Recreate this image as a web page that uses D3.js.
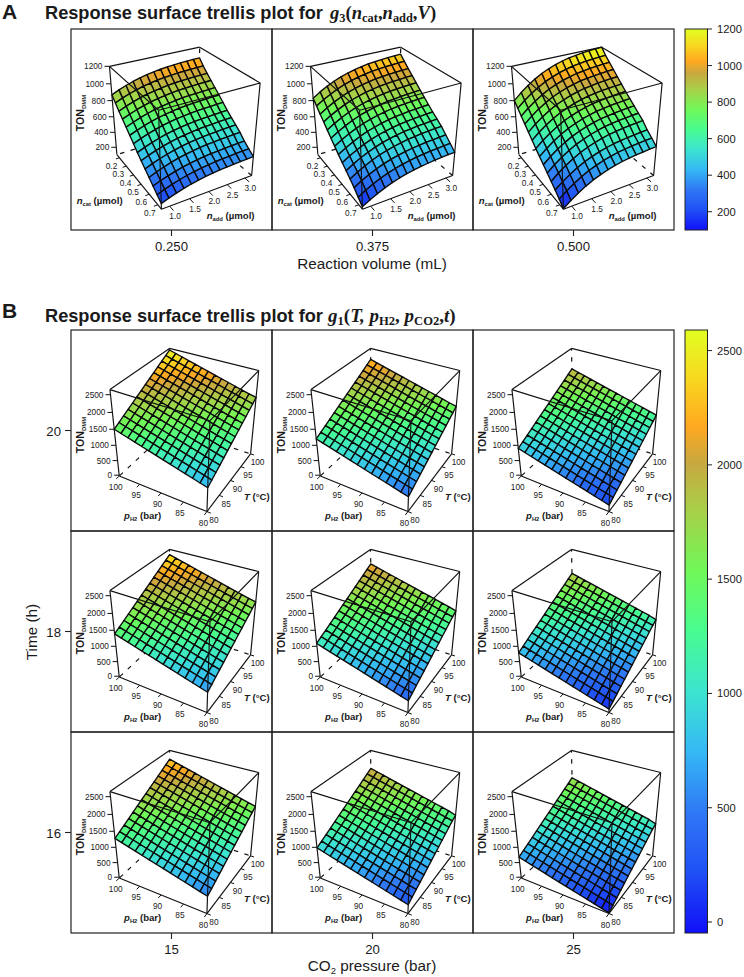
<!DOCTYPE html>
<html><head><meta charset="utf-8">
<script src="https://cdn.jsdelivr.net/npm/d3@7"></script>
<style>html,body{margin:0;background:#fff}svg{display:block}text{font-family:"Liberation Sans",Arial,sans-serif;fill:#1a1a1a}</style>
</head><body><div id="c"></div>
<script>
// Categories / ticks
const volumes=["0.250","0.375","0.500"];
const pressures=["15","20","25"];
const times=["20","18","16"];
const zTicksA=[200,400,600,800,1000,1200];
const zTicksB=[0,500,1000,1500,2000,2500];
const nAddTicks=[1.0,1.5,2.0,2.5,3.0];
const nCatTicks=[0.2,0.3,0.4,0.5,0.6,0.7];
const pH2Ticks=[100,95,90,85,80];
const tempTicks=[80,85,90,95,100];
const colorbarTicksA=[200,400,600,800,1000,1200];
const colorbarTicksB=[0,500,1000,1500,2000,2500];
const colorStops=["#1010f8","#2050f5","#2f78f5","#35b8f5","#3ce4d0","#48fc90","#70f858","#a8d048","#c8a840","#ffa820","#f8d820","#e0ff20"];
const colorStopAt=[0,.1,.2,.3,.4,.5,.6,.7,.78,.84,.92,1];

// TON values, rows: n_cat 0.2 -> 0.7, columns: n_add 1 -> 3
const surfA_250=[
[870,908,940,968,992,1010,1026,1038,1048,1054,1060,1064,1068,1070],
[810,846,877,903,926,943,958,970,979,985,990,994,998,1000],
[750,786,817,843,866,883,898,910,919,925,930,934,938,940],
[695,731,762,788,811,828,843,855,864,870,875,879,883,885],
[640,676,707,733,756,773,788,800,809,815,820,824,828,830],
[585,621,652,678,701,718,733,745,754,760,765,769,773,775],
[530,566,597,623,646,663,678,690,699,705,710,714,718,720],
[470,506,537,563,586,603,618,630,639,645,650,654,658,660],
[420,456,487,513,536,553,568,580,589,595,600,604,608,610],
[370,406,437,463,486,503,518,530,539,545,550,554,558,560],
[320,356,387,413,436,453,468,480,489,495,500,504,508,510],
[270,303,331,356,377,393,407,417,426,431,436,440,443,445],
[220,253,281,306,327,343,357,367,376,381,386,390,393,395],
[170,203,231,256,277,293,307,317,326,331,336,340,343,345]];
const surfA_375=[
[830,884,930,970,1004,1030,1052,1069,1084,1092,1101,1106,1112,1115],
[772,826,872,912,946,972,994,1011,1026,1034,1043,1048,1054,1057],
[714,768,814,854,888,914,936,953,968,976,985,990,996,999],
[660,714,760,800,834,860,882,899,914,922,931,936,942,945],
[605,659,705,745,779,805,827,844,859,867,876,881,887,890],
[550,604,650,690,724,750,772,789,804,812,821,826,832,835],
[498,552,598,638,672,698,720,737,752,760,769,774,780,783],
[445,499,545,585,619,645,667,684,699,707,716,721,727,730],
[395,449,495,535,569,595,617,634,649,657,666,671,677,680],
[348,402,448,488,522,548,570,587,602,610,619,624,630,633],
[300,354,400,440,474,500,522,539,554,562,571,576,582,585],
[250,302,346,384,417,442,463,479,493,501,510,514,520,523],
[190,242,286,324,357,382,403,419,433,441,450,454,460,463],
[130,180,224,262,295,320,341,357,371,379,388,392,398,400]];
const surfA_500=[
[800,876,940,996,1044,1080,1112,1136,1156,1168,1180,1188,1196,1200],
[745,818,880,934,980,1015,1045,1068,1088,1099,1111,1118,1126,1130],
[690,763,825,879,925,960,990,1013,1033,1044,1056,1063,1071,1075],
[635,708,770,824,870,905,935,958,978,989,1001,1008,1016,1020],
[580,653,715,769,815,850,880,903,923,934,946,953,961,965],
[525,598,660,714,760,795,825,848,868,879,891,898,906,910],
[470,543,605,659,705,740,770,793,813,824,836,843,851,855],
[420,493,555,609,655,690,720,743,763,774,786,793,801,805],
[370,443,505,559,605,640,670,693,713,724,736,743,751,755],
[320,393,455,509,555,590,620,643,663,674,686,693,701,705],
[270,343,405,459,505,540,570,593,613,624,636,643,651,655],
[220,289,348,399,443,476,505,527,545,556,567,574,581,585],
[165,234,293,344,388,421,450,472,490,501,512,519,526,530],
[105,174,233,284,328,361,390,412,430,441,452,459,466,470]];

// TON values, rows: T 80 -> 100, columns: pH2 100 -> 80
const surfB_t20_c15=[
[1500,1442,1384,1326,1268,1210,1152,1094,1036,978,920,862,804,746],
[1584,1526,1468,1410,1352,1294,1236,1178,1120,1062,1004,946,888,830],
[1668,1610,1552,1494,1436,1378,1320,1262,1204,1146,1088,1030,972,914],
[1752,1694,1636,1578,1520,1462,1404,1346,1288,1230,1172,1114,1056,998],
[1836,1778,1720,1662,1604,1546,1488,1430,1372,1314,1256,1198,1140,1082],
[1920,1862,1804,1746,1688,1630,1572,1514,1456,1398,1340,1282,1224,1166],
[2004,1946,1888,1830,1772,1714,1656,1598,1540,1482,1424,1366,1308,1250],
[2088,2030,1972,1914,1856,1798,1740,1682,1624,1566,1508,1450,1392,1334],
[2172,2114,2056,1998,1940,1882,1824,1766,1708,1650,1592,1534,1476,1418],
[2256,2198,2140,2082,2024,1966,1908,1850,1792,1734,1676,1618,1560,1502],
[2340,2282,2224,2166,2108,2050,1992,1934,1876,1818,1760,1702,1644,1586],
[2424,2366,2308,2250,2192,2134,2076,2018,1960,1902,1844,1786,1728,1670],
[2508,2450,2392,2334,2276,2218,2160,2102,2044,1986,1928,1870,1812,1754],
[2592,2534,2476,2418,2360,2302,2244,2186,2128,2070,2012,1954,1896,1850]];
const surfB_t20_c20=[
[1200,1143,1086,1029,972,915,858,801,744,687,630,573,516,459],
[1285,1228,1171,1114,1057,1000,943,886,829,772,715,658,601,544],
[1370,1313,1256,1199,1142,1085,1028,971,914,857,800,743,686,629],
[1455,1398,1341,1284,1227,1170,1113,1056,999,942,885,828,771,714],
[1540,1483,1426,1369,1312,1255,1198,1141,1084,1027,970,913,856,799],
[1625,1568,1511,1454,1397,1340,1283,1226,1169,1112,1055,998,941,884],
[1710,1653,1596,1539,1482,1425,1368,1311,1254,1197,1140,1083,1026,969],
[1795,1738,1681,1624,1567,1510,1453,1396,1339,1282,1225,1168,1111,1054],
[1880,1823,1766,1709,1652,1595,1538,1481,1424,1367,1310,1253,1196,1139],
[1965,1908,1851,1794,1737,1680,1623,1566,1509,1452,1395,1338,1281,1224],
[2050,1993,1936,1879,1822,1765,1708,1651,1594,1537,1480,1423,1366,1309],
[2135,2078,2021,1964,1907,1850,1793,1736,1679,1622,1565,1508,1451,1394],
[2220,2163,2106,2049,1992,1935,1878,1821,1764,1707,1650,1593,1536,1479],
[2305,2248,2191,2134,2077,2020,1963,1906,1849,1792,1735,1678,1621,1570]];
const surfB_t20_c25=[
[900,845,790,735,680,625,570,515,460,405,350,295,240,185],
[985,930,875,820,765,710,655,600,545,490,435,380,325,270],
[1070,1015,960,905,850,795,740,685,630,575,520,465,410,355],
[1155,1100,1045,990,935,880,825,770,715,660,605,550,495,440],
[1240,1185,1130,1075,1020,965,910,855,800,745,690,635,580,525],
[1325,1270,1215,1160,1105,1050,995,940,885,830,775,720,665,610],
[1410,1355,1300,1245,1190,1135,1080,1025,970,915,860,805,750,695],
[1495,1440,1385,1330,1275,1220,1165,1110,1055,1000,945,890,835,780],
[1580,1525,1470,1415,1360,1305,1250,1195,1140,1085,1030,975,920,865],
[1665,1610,1555,1500,1445,1390,1335,1280,1225,1170,1115,1060,1005,950],
[1750,1695,1640,1585,1530,1475,1420,1365,1310,1255,1200,1145,1090,1035],
[1835,1780,1725,1670,1615,1560,1505,1450,1395,1340,1285,1230,1175,1120],
[1920,1865,1810,1755,1700,1645,1590,1535,1480,1425,1370,1315,1260,1205],
[2005,1950,1895,1840,1785,1730,1675,1620,1565,1510,1455,1400,1345,1290]];
const surfB_t18_c15=[
[1390,1332,1274,1216,1158,1100,1042,984,926,868,810,752,694,636],
[1474,1416,1358,1300,1242,1184,1126,1068,1010,952,894,836,778,720],
[1558,1500,1442,1384,1326,1268,1210,1152,1094,1036,978,920,862,804],
[1642,1584,1526,1468,1410,1352,1294,1236,1178,1120,1062,1004,946,888],
[1726,1668,1610,1552,1494,1436,1378,1320,1262,1204,1146,1088,1030,972],
[1810,1752,1694,1636,1578,1520,1462,1404,1346,1288,1230,1172,1114,1056],
[1894,1836,1778,1720,1662,1604,1546,1488,1430,1372,1314,1256,1198,1140],
[1978,1920,1862,1804,1746,1688,1630,1572,1514,1456,1398,1340,1282,1224],
[2062,2004,1946,1888,1830,1772,1714,1656,1598,1540,1482,1424,1366,1308],
[2146,2088,2030,1972,1914,1856,1798,1740,1682,1624,1566,1508,1450,1392],
[2230,2172,2114,2056,1998,1940,1882,1824,1766,1708,1650,1592,1534,1476],
[2314,2256,2198,2140,2082,2024,1966,1908,1850,1792,1734,1676,1618,1560],
[2398,2340,2282,2224,2166,2108,2050,1992,1934,1876,1818,1760,1702,1644],
[2482,2424,2366,2308,2250,2192,2134,2076,2018,1960,1902,1844,1786,1740]];
const surfB_t18_c20=[
[1090,1034,978,922,866,810,754,698,642,586,530,474,418,362],
[1175,1119,1063,1007,951,895,839,783,727,671,615,559,503,447],
[1260,1204,1148,1092,1036,980,924,868,812,756,700,644,588,532],
[1345,1289,1233,1177,1121,1065,1009,953,897,841,785,729,673,617],
[1430,1374,1318,1262,1206,1150,1094,1038,982,926,870,814,758,702],
[1515,1459,1403,1347,1291,1235,1179,1123,1067,1011,955,899,843,787],
[1600,1544,1488,1432,1376,1320,1264,1208,1152,1096,1040,984,928,872],
[1685,1629,1573,1517,1461,1405,1349,1293,1237,1181,1125,1069,1013,957],
[1770,1714,1658,1602,1546,1490,1434,1378,1322,1266,1210,1154,1098,1042],
[1855,1799,1743,1687,1631,1575,1519,1463,1407,1351,1295,1239,1183,1127],
[1940,1884,1828,1772,1716,1660,1604,1548,1492,1436,1380,1324,1268,1212],
[2025,1969,1913,1857,1801,1745,1689,1633,1577,1521,1465,1409,1353,1297],
[2110,2054,1998,1942,1886,1830,1774,1718,1662,1606,1550,1494,1438,1382],
[2195,2139,2083,2027,1971,1915,1859,1803,1747,1691,1635,1579,1523,1460]];
const surfB_t18_c25=[
[790,736,682,628,574,520,466,412,358,304,250,196,142,88],
[875,821,767,713,659,605,551,497,443,389,335,281,227,173],
[960,906,852,798,744,690,636,582,528,474,420,366,312,258],
[1045,991,937,883,829,775,721,667,613,559,505,451,397,343],
[1130,1076,1022,968,914,860,806,752,698,644,590,536,482,428],
[1215,1161,1107,1053,999,945,891,837,783,729,675,621,567,513],
[1300,1246,1192,1138,1084,1030,976,922,868,814,760,706,652,598],
[1385,1331,1277,1223,1169,1115,1061,1007,953,899,845,791,737,683],
[1470,1416,1362,1308,1254,1200,1146,1092,1038,984,930,876,822,768],
[1555,1501,1447,1393,1339,1285,1231,1177,1123,1069,1015,961,907,853],
[1640,1586,1532,1478,1424,1370,1316,1262,1208,1154,1100,1046,992,938],
[1725,1671,1617,1563,1509,1455,1401,1347,1293,1239,1185,1131,1077,1023],
[1810,1756,1702,1648,1594,1540,1486,1432,1378,1324,1270,1216,1162,1108],
[1895,1841,1787,1733,1679,1625,1571,1517,1463,1409,1355,1301,1247,1180]];
const surfB_t16_c15=[
[1280,1223,1166,1109,1052,995,938,881,824,767,710,653,596,539],
[1364,1307,1250,1193,1136,1079,1022,965,908,851,794,737,680,623],
[1448,1391,1334,1277,1220,1163,1106,1049,992,935,878,821,764,707],
[1532,1475,1418,1361,1304,1247,1190,1133,1076,1019,962,905,848,791],
[1616,1559,1502,1445,1388,1331,1274,1217,1160,1103,1046,989,932,875],
[1700,1643,1586,1529,1472,1415,1358,1301,1244,1187,1130,1073,1016,959],
[1784,1727,1670,1613,1556,1499,1442,1385,1328,1271,1214,1157,1100,1043],
[1868,1811,1754,1697,1640,1583,1526,1469,1412,1355,1298,1241,1184,1127],
[1952,1895,1838,1781,1724,1667,1610,1553,1496,1439,1382,1325,1268,1211],
[2036,1979,1922,1865,1808,1751,1694,1637,1580,1523,1466,1409,1352,1295],
[2120,2063,2006,1949,1892,1835,1778,1721,1664,1607,1550,1493,1436,1379],
[2204,2147,2090,2033,1976,1919,1862,1805,1748,1691,1634,1577,1520,1463],
[2288,2231,2174,2117,2060,2003,1946,1889,1832,1775,1718,1661,1604,1547],
[2372,2315,2258,2201,2144,2087,2030,1973,1916,1859,1802,1745,1688,1630]];
const surfB_t16_c20=[
[980,925,870,815,760,705,650,595,540,485,430,375,320,265],
[1065,1010,955,900,845,790,735,680,625,570,515,460,405,350],
[1150,1095,1040,985,930,875,820,765,710,655,600,545,490,435],
[1235,1180,1125,1070,1015,960,905,850,795,740,685,630,575,520],
[1320,1265,1210,1155,1100,1045,990,935,880,825,770,715,660,605],
[1405,1350,1295,1240,1185,1130,1075,1020,965,910,855,800,745,690],
[1490,1435,1380,1325,1270,1215,1160,1105,1050,995,940,885,830,775],
[1575,1520,1465,1410,1355,1300,1245,1190,1135,1080,1025,970,915,860],
[1660,1605,1550,1495,1440,1385,1330,1275,1220,1165,1110,1055,1000,945],
[1745,1690,1635,1580,1525,1470,1415,1360,1305,1250,1195,1140,1085,1030],
[1830,1775,1720,1665,1610,1555,1500,1445,1390,1335,1280,1225,1170,1115],
[1915,1860,1805,1750,1695,1640,1585,1530,1475,1420,1365,1310,1255,1200],
[2000,1945,1890,1835,1780,1725,1670,1615,1560,1505,1450,1395,1340,1285],
[2085,2030,1975,1920,1865,1810,1755,1700,1645,1590,1535,1480,1425,1350]];
const surfB_t16_c25=[
[680,627,574,521,468,415,362,309,256,203,150,97,44,-9],
[765,712,659,606,553,500,447,394,341,288,235,182,129,76],
[850,797,744,691,638,585,532,479,426,373,320,267,214,161],
[935,882,829,776,723,670,617,564,511,458,405,352,299,246],
[1020,967,914,861,808,755,702,649,596,543,490,437,384,331],
[1105,1052,999,946,893,840,787,734,681,628,575,522,469,416],
[1190,1137,1084,1031,978,925,872,819,766,713,660,607,554,501],
[1275,1222,1169,1116,1063,1010,957,904,851,798,745,692,639,586],
[1360,1307,1254,1201,1148,1095,1042,989,936,883,830,777,724,671],
[1445,1392,1339,1286,1233,1180,1127,1074,1021,968,915,862,809,756],
[1530,1477,1424,1371,1318,1265,1212,1159,1106,1053,1000,947,894,841],
[1615,1562,1509,1456,1403,1350,1297,1244,1191,1138,1085,1032,979,926],
[1700,1647,1594,1541,1488,1435,1382,1329,1276,1223,1170,1117,1064,1011],
[1785,1732,1679,1626,1573,1520,1467,1414,1361,1308,1255,1202,1149,1070]];

const W=744,H=977;
const svg=d3.select("#c").append("svg").attr("width",W).attr("height",H);
const colX=[71,272,473], cw=201;
const rowYA=29, rowYB=[330,531,732];
const rad=Math.PI/180;

const domA=[100,1200], domB=[-30,2640];
const ramp=d3.scaleLinear().domain(colorStopAt).range(colorStops).interpolate(d3.interpolateRgb);

function makeProj(phi,el,s,d,cx,cy){
  const cp=Math.cos(phi*rad),sp=Math.sin(phi*rad),ce=Math.cos(el*rad),se=Math.sin(el*rad);
  return (x,y,z)=>{
    const sx=x*cp+y*sp, D=-x*sp+y*cp, up=z*ce+D*se, vd=D*ce-z*se, f=d/(d+vd);
    return [cx+s*sx*f, cy-s*up*f, vd];
  };
}
const viewA={phi:-30,el:30,s:52,d:9,cx:111,cy:93};
const viewB={phi:30,el:34,s:51,d:9,cx:116,cy:94.8};

function subText(g,parts,attrs){
  const t=g.append("text");
  Object.entries(attrs).forEach(([k,v])=>t.attr(k,v));
  parts.forEach(p=>{
    const s=t.append("tspan").text(p.t);
    if(p.i)s.attr("font-style","italic");
    if(p.sub){s.attr("font-size",p.sub).attr("dy",p.dy);}
    else if(p.dy)s.attr("dy",p.dy);
  });
  return t;
}

function panel(px,py,matrix,cfg){
  const g=svg.append("g").attr("transform",`translate(${px},${py})`);
  const proj=makeProj(cfg.view.phi,cfg.view.el,cfg.view.s,cfg.view.d,cfg.view.cx,cfg.view.cy);
  const zS=d3.scaleLinear().domain(cfg.zDom).range([-1,1]);
  const iS=d3.scaleLinear().domain([0,matrix.length-1]).range(cfg.rowRange);
  const jS=d3.scaleLinear().domain([0,matrix[0].length-1]).range([-1,1]);
  const line=d3.line();
  const edge=(a,b)=>line([proj(...a),proj(...b)].map(p=>[p[0],p[1]]));
  const hx=cfg.hidden[0],hy=cfg.hidden[1];
  [[[hx,hy,-1],[hx,hy,1]],[[hx,hy,-1],[-hx,hy,-1]],[[hx,hy,-1],[hx,-hy,-1]]].forEach(e=>{
    g.append("path").attr("d",edge(e[0],e[1])).attr("fill","none").attr("stroke","#111").attr("stroke-width",1.2).attr("stroke-dasharray","4.5 6.5");
  });
  const cells=[];
  for(let i=0;i<matrix.length-1;i++)for(let j=0;j<matrix[0].length-1;j++){
    const c=[[i,j],[i,j+1],[i+1,j+1],[i+1,j]].map(([a,b])=>proj(jS(b),iS(a),zS(matrix[a][b])));
    cells.push({c,v:(matrix[i][j]+matrix[i][j+1]+matrix[i+1][j]+matrix[i+1][j+1])/4,d:d3.mean(c,p=>p[2])});
  }
  cells.sort((a,b)=>b.d-a.d);
  const cs=d3.scaleLinear().domain(cfg.colorDom).range([0,1]).clamp(true);
  g.append("g").selectAll("path").data(cells).join("path")
    .attr("d",d=>line(d.c.map(p=>[p[0],p[1]]))+"Z")
    .attr("fill",d=>ramp(cs(d.v))).attr("stroke","#0a0a0a").attr("stroke-width",1.35).attr("stroke-linejoin","round");
  const corners=[];[-1,1].forEach(x=>[-1,1].forEach(y=>[-1,1].forEach(z=>corners.push([x,y,z]))));
  corners.forEach((a,ia)=>corners.forEach((b,ib)=>{
    if(ib<=ia)return;
    const diff=(a[0]!==b[0])+(a[1]!==b[1])+(a[2]!==b[2]);
    if(diff!==1)return;
    const isH=p=>p[0]===hx&&p[1]===hy&&p[2]===-1;
    if(isH(a)||isH(b))return;
    g.append("path").attr("d",edge(a,b)).attr("fill","none").attr("stroke","#111").attr("stroke-width",1.15);
  }));
  cfg.zTicks.forEach(v=>{
    const p=proj(cfg.zCorner[0],cfg.zCorner[1],zS(v));
    g.append("line").attr("x1",p[0]-5).attr("x2",p[0]).attr("y1",p[1]).attr("y2",p[1]).attr("stroke","#111").attr("stroke-width",1);
    g.append("text").attr("x",p[0]-7).attr("y",p[1]+3).attr("text-anchor","end").attr("font-size",8.3).text(v);
  });
  cfg.floor.forEach(ax=>{
    const s=d3.scaleLinear().domain(ax.dom).range(ax.range);
    ax.ticks.forEach(v=>{
      const a=ax.pt(s(v),false),b=ax.pt(s(v),true);
      const p=proj(...a),q=proj(...b);
      g.append("line").attr("x1",p[0]).attr("y1",p[1]).attr("x2",q[0]).attr("y2",q[1]).attr("stroke","#111").attr("stroke-width",1);
      g.append("text").attr("x",p[0]+ax.off[0]).attr("y",p[1]+ax.off[1]+3).attr("text-anchor","middle").attr("font-size",8.3).text(ax.fmt(v));
    });
  });
  const zl=g.append("g").attr("transform",`translate(13,${cfg.zLabelY}) rotate(-90)`);
  subText(zl,[{t:"TON"},{t:"DMM",sub:6,dy:2}],{"text-anchor":"middle","font-size":10.6,"font-weight":"bold"});
  cfg.labels.forEach(l=>subText(g,l.parts,{x:l.x,y:l.y,"font-size":9.6,"font-weight":"bold"}));
  g.append("rect").attr("width",cw).attr("height",cw).attr("fill","none").attr("stroke","#222").attr("stroke-width",1.2);
}

const cfgA={view:viewA,zDom:domA,colorDom:domA,rowRange:[1,-1],hidden:[1,1],zTicks:zTicksA,zCorner:[-1,1],zLabelY:84,
  floor:[
   {dom:[0.8,3.2],range:[-1,1],ticks:nAddTicks,pt:(v,o)=>[v,o?-1.14:-1,-1],off:[5.5,10],fmt:d3.format(".1f")},
   {dom:[0.16,0.74],range:[1,-1],ticks:nCatTicks,pt:(v,o)=>[o?-1.08:-1,v,-1],off:[-8,8],fmt:d3.format(".1f")}
  ],
  labels:[
   {x:5.7,y:175,parts:[{t:"n",i:1},{t:"cat",sub:5.8,dy:1.8},{t:" (µmol)",dy:-1.8}]},
   {x:135.7,y:190,parts:[{t:"n",i:1},{t:"add",sub:5.8,dy:1.8},{t:" (µmol)",dy:-1.8}]}
  ]};
const cfgB={view:viewB,zDom:domB,colorDom:domB,rowRange:[-1,1],hidden:[-1,1],zTicks:zTicksB,zCorner:[-1,-1],zLabelY:105,
  floor:[
   {dom:[100,80],range:[-1,1],ticks:pH2Ticks,pt:(v,o)=>[v,o?-1.1:-1,-1],off:[-3.5,11],fmt:String},
   {dom:[80,100],range:[-1,1],ticks:tempTicks,pt:(v,o)=>[o?1.08:1,v,-1],off:[7,8.5],fmt:String}
  ],
  labels:[
   {x:53,y:189,parts:[{t:"p",i:1},{t:"H2",sub:5.8,dy:1.8},{t:" (bar)",dy:-1.8}]},
   {x:173,y:170,parts:[{t:"T",i:1},{t:" (°C)"}]}
  ]};

[surfA_250,surfA_375,surfA_500].forEach((m,k)=>panel(colX[k],rowYA,m,cfgA));
[[surfB_t20_c15,surfB_t20_c20,surfB_t20_c25],[surfB_t18_c15,surfB_t18_c20,surfB_t18_c25],[surfB_t16_c15,surfB_t16_c20,surfB_t16_c25]]
  .forEach((row,r)=>row.forEach((m,k)=>panel(colX[k],rowYB[r],m,cfgB)));

const axisFs=13.2, titleFs=15.3;
function bottomTicks(y,labels,ly){
  labels.forEach((t,k)=>{
    const x=colX[k]+cw/2;
    svg.append("line").attr("x1",x).attr("x2",x).attr("y1",y).attr("y2",y+6).attr("stroke","#222").attr("stroke-width",1.1);
    svg.append("text").attr("x",x).attr("y",ly).attr("text-anchor","middle").attr("font-size",axisFs).text(t);
  });
}
bottomTicks(230,volumes,251);
svg.append("text").attr("x",372).attr("y",269).attr("text-anchor","middle").attr("font-size",titleFs).text("Reaction volume (mL)");
bottomTicks(933,pressures,954);
const co2=svg.append("text").attr("x",372).attr("y",971).attr("text-anchor","middle").attr("font-size",titleFs);
co2.append("tspan").text("CO");co2.append("tspan").attr("font-size",9.5).attr("dy",3).text("2");co2.append("tspan").attr("dy",-3).text(" pressure (bar)");
times.forEach((t,r)=>{
  const y=rowYB[r]+cw/2;
  svg.append("line").attr("x1",65).attr("x2",71).attr("y1",y).attr("y2",y).attr("stroke","#222").attr("stroke-width",1.1);
  svg.append("text").attr("x",61).attr("y",y+5).attr("text-anchor","end").attr("font-size",axisFs).text(t);
});
svg.append("text").attr("transform","translate(37,632) rotate(-90)").attr("text-anchor","middle").attr("font-size",titleFs).text("Time (h)");

function title(letter,ly,tx,ty,parts,mathX,mathFs){
  svg.append("text").attr("x",2).attr("y",ly).attr("font-size",21).attr("font-weight","bold").attr("fill","#000").text(letter);
  svg.append("text").attr("x",tx).attr("y",ty).attr("font-size",18.2).attr("font-weight","bold").attr("fill","#000").text("Response surface trellis plot for");
  const t=svg.append("text").attr("x",mathX).attr("y",ty).attr("font-size",mathFs).attr("font-weight","bold").style("font-family",'"Liberation Serif",serif').attr("fill","#000");
  parts.forEach(p=>{
    const s=t.append("tspan").text(p.t);
    if(p.i)s.attr("font-style","italic");
    if(p.sub)s.attr("font-size",p.sub).attr("dy",3);
    if(p.up)s.attr("dy",-3);
  });
}
title("A",19.2,45,18.6,[{t:"g",i:1},{t:"3",sub:12.4},{t:"(",up:1},{t:"n",i:1},{t:"cat",sub:12.4},{t:",",up:1},{t:"n",i:1},{t:"add",sub:12.4},{t:",",up:1},{t:"V",i:1},{t:")"}],330,18.6);
title("B",318.3,45,321.5,[{t:"g",i:1},{t:"1",sub:12.6},{t:"(",up:1},{t:"T, ",i:1},{t:"p",i:1},{t:"H2",sub:12.6},{t:", ",up:1},{t:"p",i:1},{t:"CO2",sub:12.6},{t:",",up:1},{t:"t",i:1},{t:")"}],328,19);

const defs=svg.append("defs");
const grad=defs.append("linearGradient").attr("id","cb").attr("x1",0).attr("x2",0).attr("y1",1).attr("y2",0);
grad.selectAll("stop").data(colorStopAt).join("stop").attr("offset",d=>d).attr("stop-color",(d,i)=>colorStops[i]);
function colorbar(y0,y1,dom,ticks){
  const s=d3.scaleLinear().domain(dom).range([y1,y0]);
  svg.append("rect").attr("x",685).attr("y",y0).attr("width",22.5).attr("height",y1-y0).attr("fill","url(#cb)").attr("stroke","#222").attr("stroke-width",1);
  ticks.forEach(v=>{
    svg.append("line").attr("x1",707.5).attr("x2",712).attr("y1",s(v)).attr("y2",s(v)).attr("stroke","#222").attr("stroke-width",1);
    svg.append("text").attr("x",717).attr("y",s(v)+4).attr("font-size",11.2).text(v);
  });
}
colorbar(29,230,[100,1200],colorbarTicksA);
colorbar(330,933,[-48,2590],colorbarTicksB);
</script></body></html>
